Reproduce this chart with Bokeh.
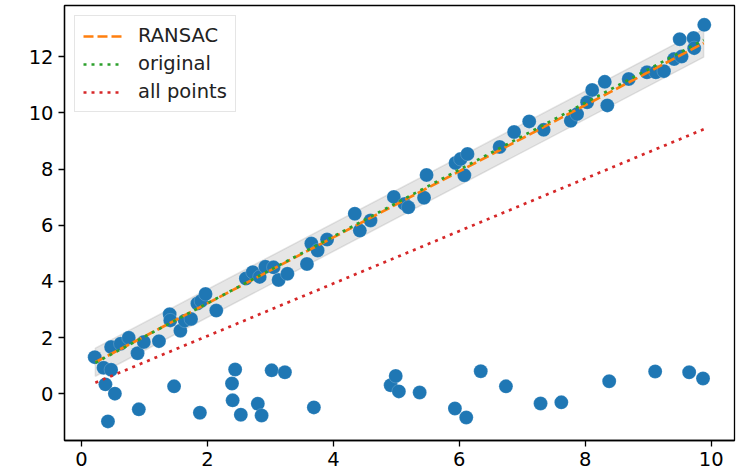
import numpy as np
from bokeh.plotting import figure
from bokeh.models import Range1d, FixedTicker, Legend, LegendItem
from bokeh.embed import file_html
from bokeh.resources import INLINE

# ---- data ----
inlier_x = [0.21, 0.35, 0.47, 0.47, 0.62, 0.75, 0.89, 0.99, 1.23, 1.40, 1.41, 1.57,
            1.64, 1.74, 1.84, 1.90, 1.97, 2.14, 2.61, 2.72, 2.83, 2.92, 3.05, 3.13,
            3.27, 3.58, 3.65, 3.75, 3.90, 4.34, 4.42, 4.59, 4.96, 5.13, 5.19, 5.44,
            5.48, 5.94, 6.02, 6.13, 6.08, 6.64, 6.87, 7.11, 7.34, 7.77, 7.87, 8.03,
            8.11, 8.31, 8.35, 8.69, 8.98, 9.12, 9.25, 9.41, 9.53, 9.50, 9.72, 9.73, 9.89]
inlier_y = [1.30, 0.92, 0.85, 1.66, 1.78, 1.99, 1.44, 1.84, 1.87, 2.83, 2.61, 2.24,
            2.60, 2.66, 3.21, 3.30, 3.55, 2.96, 4.10, 4.33, 4.16, 4.52, 4.50, 4.05,
            4.27, 4.62, 5.35, 5.10, 5.49, 6.41, 5.81, 6.17, 7.01, 6.76, 6.64, 6.98,
            7.79, 8.22, 8.36, 8.54, 7.78, 8.79, 9.32, 9.70, 9.40, 9.72, 9.96, 10.38,
            10.82, 11.11, 10.27, 11.21, 11.45, 11.45, 11.49, 11.92, 12.01, 12.63, 12.67, 12.31, 13.14]
outlier_x = [0.38, 0.53, 0.42, 0.91, 1.47, 1.88, 2.44, 2.39, 2.40, 2.53, 2.80, 2.86,
             3.02, 3.23, 3.69, 4.91, 4.99, 5.04, 5.37, 5.93, 6.11, 6.34, 6.74, 7.29,
             7.62, 8.38, 9.11, 9.65, 9.87]
outlier_y = [0.33, 0.00, -0.99, -0.56, 0.26, -0.68, 0.86, 0.36, -0.24, -0.75, -0.36, -0.78,
             0.83, 0.76, -0.49, 0.30, 0.63, 0.08, 0.04, -0.53, -0.85, 0.80, 0.26, -0.35,
             -0.31, 0.44, 0.79, 0.76, 0.54]

line_x = [0.22, 9.88]
ransac_y = [1.12, 12.49]
original_y = [1.10, 12.60]
allpoints_y = [0.39, 9.42]
band_halfwidth = 0.5

x_ticks = [0, 2, 4, 6, 8, 10]
y_ticks = [0, 2, 4, 6, 8, 10, 12]

FONT = "DejaVu Sans"

p = figure(width=745, height=475, output_backend="svg", toolbar_location=None,
           x_range=Range1d(-0.27, 10.37), y_range=Range1d(-1.67, 13.83),
           min_border_left=64, min_border_right=11, min_border_top=5, min_border_bottom=35)
p.background_fill_color = "white"
p.border_fill_color = "white"
p.grid.visible = False
p.outline_line_color = "black"
p.outline_line_width = 1.3

# band around RANSAC fit
bx = [line_x[0], line_x[1], line_x[1], line_x[0]]
by = [ransac_y[0] - band_halfwidth, ransac_y[1] - band_halfwidth,
      ransac_y[1] + band_halfwidth, ransac_y[0] + band_halfwidth]
p.patch(bx, by, fill_color="gray", fill_alpha=0.2, line_color="gray", line_alpha=0.2, line_width=1.5)

all_x = inlier_x + outlier_x
all_y = inlier_y + outlier_y
p.scatter(all_x, all_y, size=14, fill_color="#1f77b4", line_color="white",
          line_alpha=0.3, line_width=0.6)

r1 = p.line(line_x, ransac_y, line_color="#ff7f0e", line_width=2.7, line_dash="10 4")
r2 = p.line(line_x, original_y, line_color="#2ca02c", line_width=2.7, line_dash="3 5")
r3 = p.line(line_x, allpoints_y, line_color="#d62728", line_width=2.7, line_dash="3 5")

legend = Legend(items=[LegendItem(label="RANSAC", renderers=[r1]),
                       LegendItem(label="original", renderers=[r2]),
                       LegendItem(label="all points", renderers=[r3])],
                location="top_left")
legend.margin = 10
legend.padding = 8
legend.spacing = 5
legend.glyph_width = 40
legend.glyph_height = 22
legend.label_height = 22
legend.label_standoff = 15
legend.label_text_font = FONT
legend.label_text_font_size = "19.5px"
legend.label_text_color = "#222222"
legend.border_line_color = "#cccccc"
legend.border_line_width = 1.2
legend.background_fill_alpha = 0.8
p.add_layout(legend, "center")

for ax in (p.xaxis[0], p.yaxis[0]):
    ax.major_tick_in = 0
    ax.major_tick_out = 6
    ax.minor_tick_in = 0
    ax.minor_tick_out = 0
    ax.axis_line_color = "black"
    ax.axis_line_width = 1.3
    ax.major_tick_line_width = 1.3
    ax.major_label_text_font = FONT
    ax.major_label_text_font_size = "19.5px"
    ax.major_label_text_color = "black"
    ax.major_label_standoff = 5

p.xaxis[0].ticker = FixedTicker(ticks=x_ticks)
p.yaxis[0].ticker = FixedTicker(ticks=y_ticks)

with open("out.html", "w") as f:
    f.write(file_html(p, INLINE))
